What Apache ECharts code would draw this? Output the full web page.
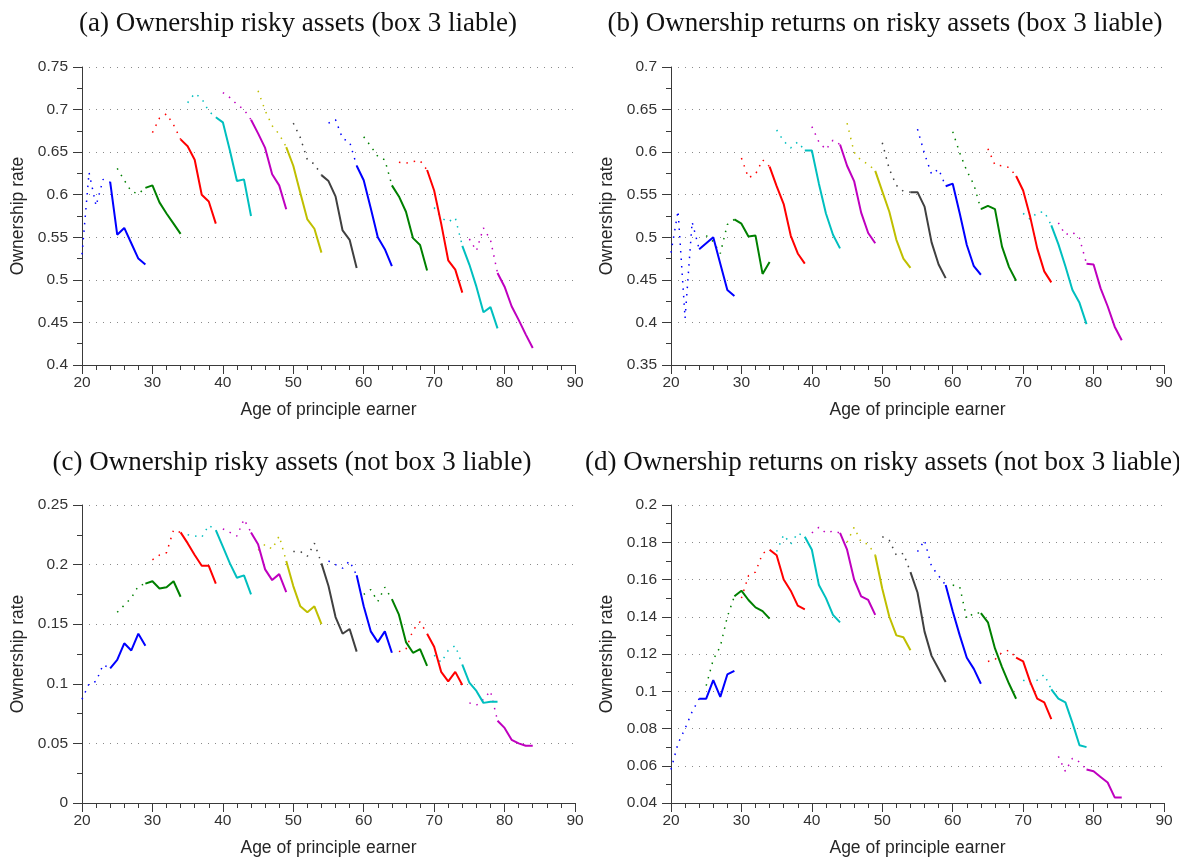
<!DOCTYPE html>
<html><head><meta charset="utf-8">
<script src="https://cdn.jsdelivr.net/npm/echarts@6/dist/echarts.min.js"></script>
<style>html,body{margin:0;padding:0;background:#fff}#chart{width:1179px;height:858px}</style>
</head><body><div id="chart"></div>
<script>
// ---- categories / ages ----
const dottedStartAges = [20, 25, 30, 35, 40, 45, 50, 55, 60, 65, 70, 75];
const solidStartAges  = [24, 29, 34, 39, 44, 49, 54, 59, 64, 69, 74, 79];

// ---- titles / labels ----
const panelTitles = [
  '(a) Ownership risky assets (box 3 liable)',
  '(b) Ownership returns on risky assets (box 3 liable)',
  '(c) Ownership risky assets (not box 3 liable)',
  '(d) Ownership returns on risky assets (not box 3 liable)'
];
const xAxisTitle = 'Age of principle earner';
const yAxisTitle = 'Ownership rate';
const yMins = [0.4, 0.35, 0, 0.04];
const yMaxs = [0.75, 0.7, 0.25, 0.2];
const yIntervals = [0.05, 0.05, 0.05, 0.02];

// ---- (a) risky assets, box 3 liable ----
const aDotted = [
  [0.530, 0.626, 0.587, 0.618, 0.615],
  [0.631, 0.617, 0.604, 0.601, 0.608],
  [0.673, 0.690, 0.695, 0.682, 0.665],
  [0.708, 0.719, 0.713, 0.698, 0.691],
  [0.720, 0.714, 0.706, 0.700, 0.688],
  [0.722, 0.699, 0.681, 0.671, 0.656],
  [0.684, 0.667, 0.641, 0.636, 0.623],
  [0.684, 0.688, 0.666, 0.662, 0.634],
  [0.668, 0.657, 0.645, 0.641, 0.611],
  [0.638, 0.637, 0.639, 0.640, 0.629],
  [0.585, 0.573, 0.568, 0.573, 0.540],
  [0.548, 0.534, 0.561, 0.547, 0.508]
];
const aSolid = [
  [0.615, 0.553, 0.561, 0.543, 0.525, 0.518],
  [0.608, 0.611, 0.591, 0.578, 0.566, 0.554],
  [0.665, 0.657, 0.641, 0.600, 0.592, 0.566],
  [0.691, 0.685, 0.652, 0.616, 0.618, 0.575],
  [0.688, 0.672, 0.655, 0.624, 0.611, 0.583],
  [0.656, 0.634, 0.602, 0.571, 0.560, 0.532],
  [0.623, 0.616, 0.598, 0.558, 0.547, 0.514],
  [0.634, 0.617, 0.584, 0.550, 0.536, 0.516],
  [0.611, 0.598, 0.580, 0.549, 0.541, 0.511],
  [0.629, 0.605, 0.566, 0.523, 0.512, 0.485],
  [0.540, 0.518, 0.492, 0.462, 0.468, 0.443],
  [0.508, 0.492, 0.469, 0.453, 0.436, 0.420]
];

// ---- (b) returns on risky assets, box 3 liable ----
const bDotted = [
  [0.482, 0.531, 0.405, 0.518, 0.486],
  [0.502, 0.495, 0.481, 0.515, 0.521],
  [0.593, 0.570, 0.574, 0.591, 0.583],
  [0.626, 0.613, 0.605, 0.612, 0.602],
  [0.630, 0.612, 0.603, 0.614, 0.609],
  [0.634, 0.600, 0.590, 0.586, 0.578],
  [0.611, 0.580, 0.561, 0.554, 0.553],
  [0.627, 0.598, 0.574, 0.580, 0.560],
  [0.624, 0.599, 0.578, 0.562, 0.533],
  [0.604, 0.585, 0.584, 0.582, 0.572],
  [0.528, 0.521, 0.529, 0.530, 0.514],
  [0.517, 0.503, 0.506, 0.499, 0.469]
];
const bSolid = [
  [0.486, 0.493, 0.500, 0.469, 0.438, 0.431],
  [0.521, 0.516, 0.501, 0.502, 0.457, 0.471],
  [0.583, 0.560, 0.539, 0.502, 0.481, 0.469],
  [0.602, 0.602, 0.563, 0.528, 0.503, 0.487],
  [0.609, 0.584, 0.566, 0.529, 0.505, 0.493],
  [0.578, 0.554, 0.530, 0.497, 0.475, 0.464],
  [0.553, 0.553, 0.536, 0.494, 0.468, 0.452],
  [0.560, 0.563, 0.528, 0.491, 0.466, 0.456],
  [0.533, 0.537, 0.533, 0.489, 0.465, 0.449],
  [0.572, 0.555, 0.524, 0.487, 0.460, 0.447],
  [0.514, 0.492, 0.466, 0.438, 0.423, 0.398],
  [0.469, 0.468, 0.440, 0.419, 0.395, 0.379]
];

// ---- (c) risky assets, not box 3 liable ----
const cDotted = [
  [0.087, 0.100, 0.102, 0.116, 0.113],
  [0.160, 0.166, 0.172, 0.182, 0.184],
  [0.204, 0.208, 0.210, 0.229, 0.227],
  [0.225, 0.224, 0.223, 0.233, 0.229],
  [0.230, 0.227, 0.224, 0.238, 0.227],
  [0.212, 0.217, 0.213, 0.224, 0.203],
  [0.211, 0.211, 0.207, 0.218, 0.201],
  [0.203, 0.200, 0.197, 0.203, 0.191],
  [0.175, 0.179, 0.169, 0.181, 0.171],
  [0.127, 0.129, 0.145, 0.152, 0.142],
  [0.124, 0.118, 0.128, 0.132, 0.116],
  [0.084, 0.082, 0.087, 0.094, 0.069]
];
const cSolid = [
  [0.113, 0.120, 0.134, 0.128, 0.142, 0.132],
  [0.184, 0.186, 0.180, 0.181, 0.186, 0.173],
  [0.227, 0.218, 0.208, 0.199, 0.199, 0.184],
  [0.229, 0.215, 0.201, 0.189, 0.191, 0.175],
  [0.227, 0.217, 0.196, 0.187, 0.192, 0.177],
  [0.203, 0.182, 0.165, 0.160, 0.165, 0.150],
  [0.201, 0.182, 0.156, 0.142, 0.146, 0.127],
  [0.191, 0.165, 0.144, 0.135, 0.144, 0.126],
  [0.171, 0.158, 0.135, 0.126, 0.129, 0.115],
  [0.142, 0.131, 0.110, 0.102, 0.110, 0.099],
  [0.116, 0.101, 0.094, 0.084, 0.085, 0.085],
  [0.069, 0.063, 0.053, 0.050, 0.048, 0.048]
];

// ---- (d) returns on risky assets, not box 3 liable ----
const dDotted = [
  [0.058, 0.072, 0.080, 0.089, 0.096],
  [0.103, 0.117, 0.124, 0.140, 0.151],
  [0.150, 0.162, 0.164, 0.174, 0.176],
  [0.175, 0.184, 0.179, 0.185, 0.183],
  [0.185, 0.188, 0.185, 0.186, 0.185],
  [0.180, 0.188, 0.180, 0.179, 0.173],
  [0.183, 0.181, 0.173, 0.174, 0.164],
  [0.175, 0.181, 0.167, 0.162, 0.157],
  [0.157, 0.156, 0.139, 0.142, 0.142],
  [0.116, 0.117, 0.121, 0.122, 0.118],
  [0.106, 0.104, 0.106, 0.109, 0.101],
  [0.065, 0.057, 0.064, 0.062, 0.058]
];
const dSolid = [
  [0.096, 0.096, 0.106, 0.097, 0.109, 0.111],
  [0.151, 0.154, 0.149, 0.145, 0.143, 0.139],
  [0.176, 0.173, 0.160, 0.154, 0.146, 0.144],
  [0.183, 0.176, 0.157, 0.150, 0.141, 0.137],
  [0.185, 0.176, 0.160, 0.151, 0.149, 0.141],
  [0.173, 0.155, 0.140, 0.130, 0.129, 0.122],
  [0.164, 0.153, 0.132, 0.119, 0.112, 0.105],
  [0.157, 0.143, 0.130, 0.118, 0.112, 0.104],
  [0.142, 0.137, 0.123, 0.113, 0.104, 0.096],
  [0.118, 0.116, 0.105, 0.096, 0.094, 0.085],
  [0.101, 0.096, 0.094, 0.083, 0.071, 0.070],
  [0.058, 0.057, 0.054, 0.051, 0.043, 0.043]
];

// ---- styling ----
const cohortColors = ['#0000FF', '#008000', '#FF0000', '#00BFBF', '#BF00BF', '#BFBF00', '#404040'];
const SANS = '"Liberation Sans", Arial, sans-serif';
const SERIF = '"Liberation Serif", "Times New Roman", serif';
const grids = [
  {left: 82, top: 67, width: 493, height: 298},
  {left: 671, top: 67, width: 493, height: 298},
  {left: 82, top: 505, width: 493, height: 298},
  {left: 671, top: 505, width: 493, height: 298}
];
const titlePos = [[298, 24], [885, 24], [292, 463], [883, 463]];
const axisColor = '#3a3a3a';

const panels = [[aDotted, aSolid], [bDotted, bSolid], [cDotted, cSolid], [dDotted, dSolid]];

const series = [];
panels.forEach(([dotted, solid], p) => {
  dotted.forEach((vals, k) => {
    series.push({
      type: 'line', xAxisIndex: p, yAxisIndex: p, showSymbol: false, silent: true,
      data: vals.map((v, i) => [dottedStartAges[k] + i, v]),
      lineStyle: {color: cohortColors[k % 7], width: 1.5, type: [1.5, 6], cap: 'butt'},
      z: 2
    });
  });
  solid.forEach((vals, k) => {
    series.push({
      type: 'line', xAxisIndex: p, yAxisIndex: p, showSymbol: false, silent: true,
      data: vals.map((v, i) => [solidStartAges[k] + i, v]),
      lineStyle: {color: cohortColors[k % 7], width: 2},
      z: 3
    });
  });
});

const xAxes = grids.map((g, i) => ({
  type: 'value', gridIndex: i, min: 20, max: 90, interval: 10,
  name: xAxisTitle, nameLocation: 'middle', nameGap: 36,
  nameTextStyle: {fontFamily: SANS, fontSize: 17.5, color: '#262626'},
  axisLine: {show: true, onZero: false, lineStyle: {color: axisColor, width: 1}},
  axisTick: {show: true, length: 9, lineStyle: {color: axisColor}},
  minorTick: {show: true, splitNumber: 5, length: 5, lineStyle: {color: axisColor}},
  axisLabel: {fontFamily: SANS, fontSize: 15.5, color: '#333', margin: 10},
  splitLine: {show: false}
}));
const yAxes = grids.map((g, i) => ({
  type: 'value', gridIndex: i, min: yMins[i], max: yMaxs[i], interval: yIntervals[i],
  name: yAxisTitle, nameLocation: 'middle', nameGap: 55,
  nameTextStyle: {fontFamily: SANS, fontSize: 17.5, color: '#262626'},
  axisLine: {show: true, onZero: false, lineStyle: {color: axisColor, width: 1}},
  axisTick: {show: true, length: 9, lineStyle: {color: axisColor}},
  minorTick: {show: true, splitNumber: 2, length: 5, lineStyle: {color: axisColor}},
  axisLabel: {fontFamily: SANS, fontSize: 15.5, color: '#333', margin: 14},
  splitLine: {show: true, lineStyle: {color: '#8a8a8a', width: 1, type: [1, 6]}}
}));

const chart = echarts.init(document.getElementById('chart'), null, {renderer: 'canvas'});
chart.setOption({
  animation: false,
  backgroundColor: '#fff',
  grid: grids,
  xAxis: xAxes,
  yAxis: yAxes,
  series: series,
  graphic: panelTitles.map((t, i) => ({
    type: 'text', x: titlePos[i][0], y: titlePos[i][1], silent: true,
    style: {text: t, font: '27px ' + SERIF, fill: '#111', textAlign: 'center', textVerticalAlign: 'middle', verticalAlign: 'middle'}
  }))
});
</script>
</body></html>
